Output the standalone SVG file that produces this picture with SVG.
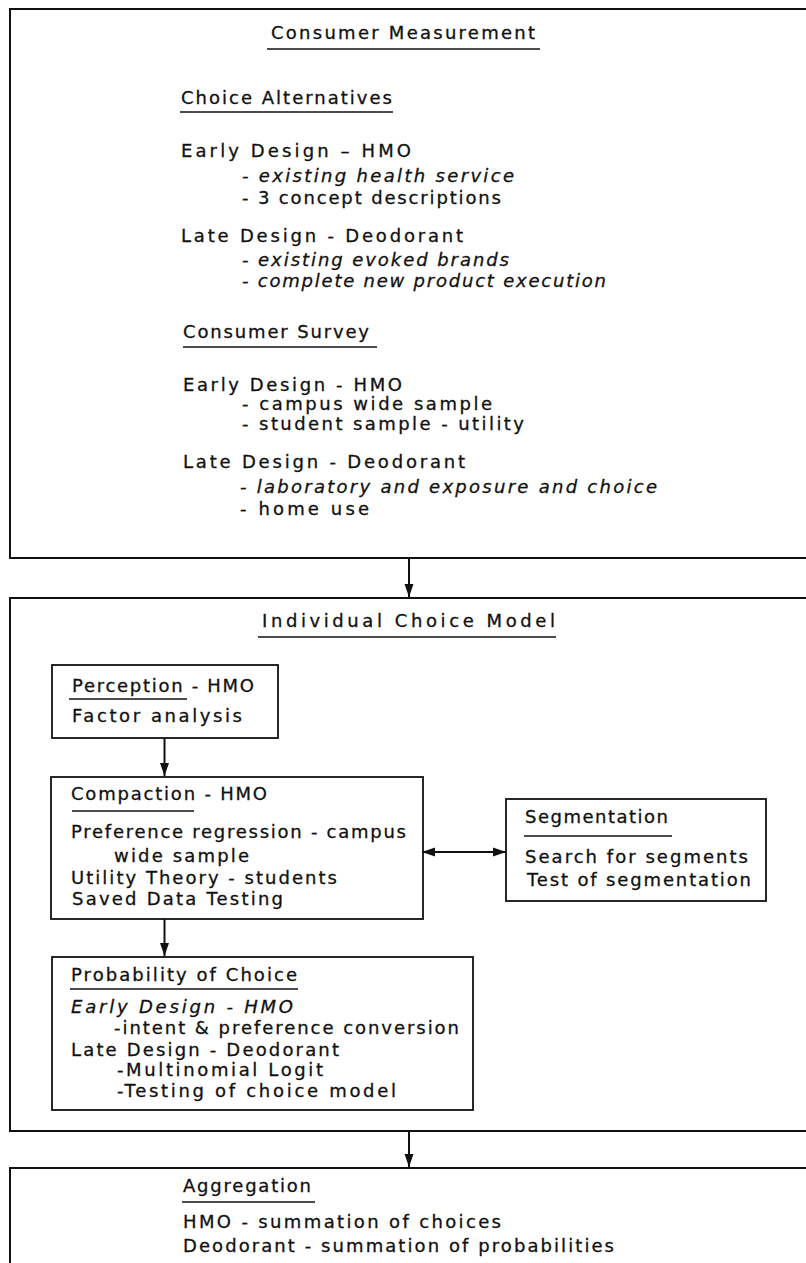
<svg xmlns="http://www.w3.org/2000/svg" width="806" height="1263" viewBox="0 0 806 1263">
  <style>
    text { font-family: "DejaVu Sans", "Liberation Sans", sans-serif; font-size: 18px; fill: #111; stroke: #111; stroke-width: 0.3; }
    .it { font-style: italic; }
    .frame { fill: none; stroke: #111; stroke-width: 2; }
    .box { fill: none; stroke: #111; stroke-width: 1.8; }
    .ul { stroke: #111; stroke-width: 1.6; }
    .link { stroke: #111; stroke-width: 2; fill: none; }
  </style>
  <defs>
    <marker id="head" markerUnits="userSpaceOnUse" markerWidth="14" markerHeight="10" refX="13" refY="5" orient="auto-start-reverse">
      <path d="M0,0.5 L13,5 L0,9.5 Z" fill="#111"/>
    </marker>
  </defs>
  <rect width="806" height="1263" fill="#fff"/>

  <!-- Consumer Measurement panel -->
  <g id="consumer-measurement">
    <rect class="frame" x="10" y="9" width="820" height="549"/>
    <text x="271" y="39" textLength="264" lengthAdjust="spacing">Consumer Measurement</text>
    <line class="ul" x1="267" y1="49" x2="540" y2="49"/>
    <text x="181" y="104" textLength="211" lengthAdjust="spacing">Choice Alternatives</text>
    <line class="ul" x1="180" y1="112" x2="393" y2="112"/>
    <text x="181" y="157" textLength="230" lengthAdjust="spacing">Early Design – HMO</text>
    <text class="it" x="242" y="182" textLength="272" lengthAdjust="spacing">- existing health service</text>
    <text x="242" y="204" textLength="259" lengthAdjust="spacing">- 3 concept descriptions</text>
    <text x="181" y="242" textLength="282" lengthAdjust="spacing">Late Design - Deodorant</text>
    <text class="it" x="242" y="266" textLength="267" lengthAdjust="spacing">- existing evoked brands</text>
    <text class="it" x="242" y="287" textLength="364" lengthAdjust="spacing">- complete new product execution</text>
    <text x="183" y="338" textLength="186" lengthAdjust="spacing">Consumer Survey</text>
    <line class="ul" x1="183" y1="347" x2="377" y2="347"/>
    <text x="183" y="391" textLength="219" lengthAdjust="spacing">Early Design - HMO</text>
    <text x="242" y="410" textLength="250" lengthAdjust="spacing">- campus wide sample</text>
    <text x="242" y="430" textLength="282" lengthAdjust="spacing">- student sample - utility</text>
    <text x="183" y="468" textLength="282" lengthAdjust="spacing">Late Design - Deodorant</text>
    <text class="it" x="240" y="493" textLength="417" lengthAdjust="spacing">- laboratory and exposure and choice</text>
    <text x="240" y="515" textLength="129" lengthAdjust="spacing">- home use</text>
  </g>

  <!-- Individual Choice Model panel -->
  <g id="individual-choice-model">
    <rect class="frame" x="10" y="598" width="820" height="533"/>
    <text x="262" y="627" textLength="293" lengthAdjust="spacing">Individual Choice Model</text>
    <line class="ul" x1="258" y1="637" x2="556" y2="637"/>
  </g>

  <g id="perception">
    <rect class="box" x="52" y="665" width="226" height="73"/>
    <text x="72" y="692" textLength="182" lengthAdjust="spacing">Perception - HMO</text>
    <line class="ul" x1="69" y1="699" x2="187" y2="699"/>
    <text x="72" y="722" textLength="170" lengthAdjust="spacing">Factor analysis</text>
  </g>

  <g id="compaction">
    <rect class="box" x="51" y="777" width="372" height="142"/>
    <text x="71" y="800" textLength="196" lengthAdjust="spacing">Compaction - HMO</text>
    <line class="ul" x1="72" y1="811" x2="194" y2="811"/>
    <text x="71" y="838" textLength="335" lengthAdjust="spacing">Preference regression - campus</text>
    <text x="114" y="862" textLength="135" lengthAdjust="spacing">wide sample</text>
    <text x="71" y="884" textLength="266" lengthAdjust="spacing">Utility Theory - students</text>
    <text x="72" y="905" textLength="211" lengthAdjust="spacing">Saved Data Testing</text>
  </g>

  <g id="segmentation">
    <rect class="box" x="506" y="799" width="260" height="102"/>
    <text x="525" y="823" textLength="143" lengthAdjust="spacing">Segmentation</text>
    <line class="ul" x1="524" y1="836" x2="672" y2="836"/>
    <text x="525" y="863" textLength="223" lengthAdjust="spacing">Search for segments</text>
    <text x="527" y="886" textLength="224" lengthAdjust="spacing">Test of segmentation</text>
  </g>

  <g id="probability-of-choice">
    <rect class="box" x="52" y="957" width="421" height="153"/>
    <text x="71" y="981" textLength="226" lengthAdjust="spacing">Probability of Choice</text>
    <line class="ul" x1="70" y1="989" x2="298" y2="989"/>
    <text class="it" x="71" y="1013" textLength="222" lengthAdjust="spacing">Early Design - HMO</text>
    <text x="114" y="1034" textLength="345" lengthAdjust="spacing">-intent &amp; preference conversion</text>
    <text x="71" y="1056" textLength="268" lengthAdjust="spacing">Late Design - Deodorant</text>
    <text x="117" y="1076" textLength="206" lengthAdjust="spacing">-Multinomial Logit</text>
    <text x="117" y="1097" textLength="279" lengthAdjust="spacing">-Testing of choice model</text>
  </g>

  <!-- Aggregation panel -->
  <g id="aggregation">
    <rect class="frame" x="10" y="1168" width="820" height="140"/>
    <text x="183" y="1192" textLength="128" lengthAdjust="spacing">Aggregation</text>
    <line class="ul" x1="182" y1="1202" x2="315" y2="1202"/>
    <text x="183" y="1228" textLength="318" lengthAdjust="spacing">HMO - summation of choices</text>
    <text x="183" y="1252" textLength="431" lengthAdjust="spacing">Deodorant - summation of probabilities</text>
  </g>

  <!-- connectors -->
  <g id="connectors">
    <line class="link" x1="409" y1="558" x2="409" y2="597" marker-end="url(#head)"/>
    <line class="link" x1="164.5" y1="738" x2="164.5" y2="776" marker-end="url(#head)"/>
    <line class="link" x1="422" y1="852" x2="506" y2="852" stroke-width="2.6" marker-start="url(#head)" marker-end="url(#head)"/>
    <line class="link" x1="164.5" y1="919" x2="164.5" y2="956" marker-end="url(#head)"/>
    <line class="link" x1="409" y1="1131" x2="409" y2="1167" marker-end="url(#head)"/>
  </g>
</svg>
